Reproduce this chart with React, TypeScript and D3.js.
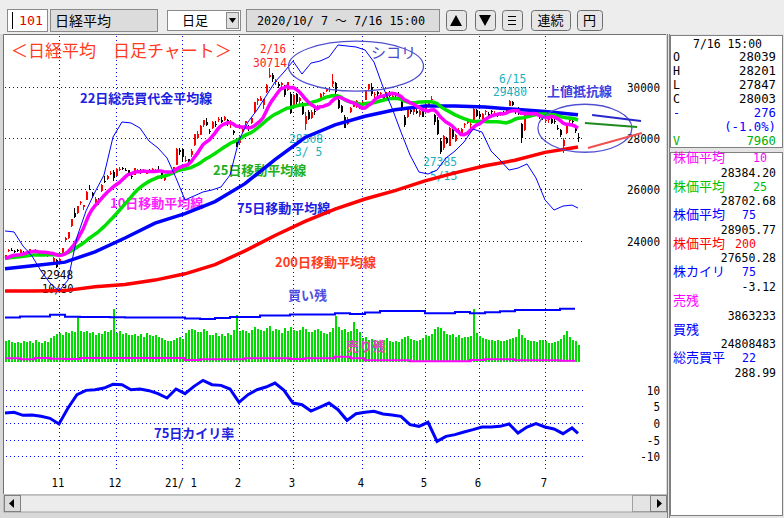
import React from 'react'
import * as d3 from 'd3'

// closes before 2020/10/7, only used to seed the 10/25 day averages
const seedCloses = [23139, 23138, 23247, 23465, 23205, 23089, 23274, 23032, 23235, 23406, 23559, 23454,
  23475, 23319, 23360, 23346, 23087, 23204, 23511, 23539, 23185, 23029, 23312, 23433]

// daily candles [open, high, low, close]
const octCandles = [
  [23310, 23450, 23300, 23422], [23600, 23680, 23550, 23647], [23650, 23700, 23580, 23619], [23580, 23620, 23520, 23558],
  [23620, 23660, 23540, 23601], [23530, 23660, 23500, 23626], [23550, 23600, 23480, 23507], [23450, 23500, 23370, 23410],
  [23560, 23690, 23520, 23671], [23610, 23650, 23540, 23567], [23600, 23670, 23560, 23639], [23540, 23560, 23450, 23474],
  [23490, 23540, 23450, 23516], [23560, 23590, 23480, 23494], [23440, 23500, 23380, 23485], [23440, 23470, 23400, 23418],
  [23170, 23380, 23100, 23331], [23250, 23280, 22948, 22977]
]
const novCandles = [
  [23080, 23320, 23060, 23295], [23500, 23720, 23480, 23695], [24040, 24150, 23990, 24105], [24100, 24350, 24050, 24325],
  [24560, 24850, 24540, 24839], [25090, 25280, 24900, 24905], [25060, 25360, 25020, 25349], [25490, 25560, 25370, 25520],
  [25300, 25400, 25180, 25385], [25600, 25940, 25580, 25906], [26030, 26180, 25960, 26014], [25850, 25900, 25660, 25728],
  [25490, 25700, 25450, 25634], [25620, 25660, 25400, 25527], [25950, 26200, 25900, 26165], [26340, 26500, 26260, 26296],
  [26420, 26570, 26380, 26537], [26620, 26700, 26540, 26644], [26690, 26760, 26330, 26433]
]
const decCandles = [
  [26520, 26820, 26500, 26787], [26740, 26850, 26700, 26800], [26830, 26880, 26750, 26809], [26760, 26830, 26700, 26751],
  [26750, 26770, 26530, 26547], [26500, 26560, 26400, 26467], [26550, 26840, 26540, 26817], [26710, 26790, 26660, 26756],
  [26750, 26800, 26600, 26652], [26710, 26790, 26660, 26732], [26600, 26720, 26580, 26687], [26770, 26810, 26720, 26757],
  [26780, 26840, 26760, 26806], [26760, 26810, 26700, 26763], [26770, 26910, 26700, 26714], [26680, 26700, 26400, 26436],
  [26360, 26570, 26340, 26524], [26610, 26690, 26580, 26668], [26650, 26700, 26620, 26656], [26700, 26860, 26660, 26854],
  [26940, 27600, 26930, 27568], [27550, 27600, 27340, 27444]
]
const janCandles = [
  [27570, 27600, 27050, 27258], [27150, 27280, 27060, 27158], [27170, 27200, 26960, 27055], [27340, 27570, 27250, 27490],
  [27720, 28140, 27700, 28139], [28000, 28290, 27950, 28164], [28120, 28500, 28100, 28456], [28490, 28700, 28440, 28698],
  [28630, 28770, 28470, 28519], [28270, 28340, 28140, 28242], [28390, 28650, 28360, 28633], [28550, 28660, 28420, 28523],
  [28700, 28800, 28640, 28756], [28700, 28800, 28580, 28631], [28700, 28860, 28650, 28822], [28710, 28760, 28480, 28546],
  [28500, 28700, 28400, 28635], [28260, 28300, 28100, 28197], [27900, 28000, 27630, 27663]
]
const febCandles = [
  [27790, 28100, 27750, 28091], [28260, 28400, 28200, 28362], [28600, 28670, 28500, 28646], [28440, 28520, 28280, 28341],
  [28600, 28800, 28560, 28779], [29000, 29400, 28980, 29388], [29440, 29540, 29300, 29505], [29450, 29630, 29430, 29562],
  [29280, 29530, 29150, 29520], [29780, 30100, 29770, 30084], [30380, 30714, 30330, 30467], [30450, 30550, 30200, 30292],
  [30200, 30300, 30080, 30236], [30100, 30200, 29950, 30017], [30060, 30180, 29960, 30156], [29980, 30080, 29600, 29671],
  [29890, 30190, 29850, 30168], [29700, 29800, 28950, 28966]
]
const marCandles = [
  [29300, 29700, 29280, 29663], [29700, 29750, 29300, 29408], [29450, 29600, 29200, 29559], [29350, 29400, 28900, 28930],
  [28550, 29000, 28308, 28864], [29020, 29100, 28700, 28743], [28770, 29100, 28750, 29027], [29050, 29150, 28900, 29036],
  [29170, 29300, 29120, 29211], [29480, 29750, 29450, 29717], [29760, 29800, 29650, 29766], [29850, 29950, 29780, 29921],
  [29870, 29960, 29800, 29914], [30090, 30485, 30000, 30216], [30130, 30170, 29700, 29792], [29500, 29530, 29150, 29174],
  [29250, 29300, 28990, 28995], [28800, 28900, 28380, 28405], [28550, 28800, 28500, 28729], [29000, 29200, 28980, 29176],
  [29220, 29420, 29200, 29384], [29200, 29500, 29180, 29432], [29330, 29400, 29150, 29178]
]
const aprCandles = [
  [29300, 29450, 29200, 29388], [29500, 29880, 29480, 29854], [29900, 30100, 29850, 30089], [30000, 30150, 29650, 29696],
  [29680, 29790, 29550, 29730], [29800, 29830, 29600, 29708], [29740, 29800, 29620, 29768], [29640, 29680, 29450, 29538],
  [29570, 29800, 29520, 29751], [29760, 29830, 29600, 29620], [29600, 29680, 29500, 29642], [29750, 29800, 29600, 29683],
  [29700, 29800, 29620, 29685], [29500, 29550, 29050, 29100], [28800, 28900, 28420, 28508], [28800, 29200, 28780, 29188],
  [29100, 29200, 28950, 29020], [29000, 29150, 28900, 29126], [29050, 29150, 28950, 28991], [28900, 29100, 28800, 29053],
  [29100, 29150, 28800, 28812]
]
const mayCandles = [
  [29000, 29400, 28950, 29331], [29300, 29450, 29250, 29357], [29500, 29650, 29450, 29518], [28900, 28950, 28500, 28608],
  [28700, 28800, 28100, 28147], [27900, 28000, 27385, 27448], [27600, 28100, 27550, 28084], [28000, 28050, 27750, 27824],
  [27700, 28420, 27680, 28406], [28300, 28350, 27950, 28044], [27900, 28150, 27850, 28098], [28300, 28400, 28200, 28317],
  [28200, 28400, 28150, 28364], [28500, 28600, 28400, 28553], [28600, 28700, 28550, 28642], [28500, 28650, 28400, 28549],
  [28700, 29200, 28680, 29149], [29100, 29150, 28800, 28860]
]
const junCandles = [
  [28950, 29050, 28750, 28814], [28700, 28980, 28650, 28946], [29000, 29100, 28900, 29058], [28950, 29000, 28850, 28941],
  [29050, 29100, 28950, 29019], [28950, 29050, 28900, 28963], [28900, 28950, 28800, 28860], [28900, 29000, 28850, 28958],
  [29000, 29050, 28900, 28948], [29050, 29200, 29030, 29161], [29250, 29480, 29230, 29441], [29400, 29450, 29250, 29291],
  [29100, 29150, 28950, 29018], [29100, 29200, 28900, 28964], [28550, 28600, 27795, 28011], [28300, 28900, 28280, 28884],
  [28950, 29000, 28800, 28874], [28900, 28950, 28800, 28875], [28950, 29100, 28900, 29066], [29050, 29100, 28950, 29048],
  [28900, 28950, 28750, 28812], [28800, 28850, 28700, 28791]
]
const julCandles = [
  [28650, 28800, 28600, 28707], [28700, 28800, 28600, 28783], [28750, 28800, 28550, 28598], [28650, 28750, 28550, 28643],
  [28400, 28500, 28300, 28366], [28300, 28350, 28050, 28118], [27700, 28000, 27420, 27940], [28200, 28600, 28150, 28569],
  [28650, 28800, 28600, 28718], [28650, 28700, 28550, 28608], [28450, 28500, 28200, 28279], [28039, 28201, 27847, 28003]
]

// volume (V), one per day
const octVol = [9800, 10300, 9500, 8700, 9200, 9100, 9600, 9300, 9800, 9000, 10100, 9500, 8900, 9700, 9400, 11000, 12200, 13100]
const novVol = [13600, 12800, 14000, 13400, 14300, 13900, 21100, 14500, 14200, 14400, 13600, 14200, 12600, 13800, 13100, 14500, 13900, 14800, 24900]
const decVol = [13800, 14300, 12900, 13500, 12400, 12800, 13200, 12100, 12900, 11600, 13400, 12500, 12200, 12800, 11900, 11300, 10300, 9800, 9600, 10400, 11300, 11900]
const janVol = [10600, 13400, 14800, 15400, 15100, 14200, 13900, 15300, 14600, 12800, 12500, 13400, 12100, 12900, 12300, 13600, 12800, 14900, 21900]
const febVol = [14300, 15200, 14600, 13800, 15100, 16200, 15600, 14900, 14400, 15900, 16800, 14700, 15300, 14900, 13600, 15800, 14500, 16400]
const marVol = [15200, 14300, 14900, 16600, 15400, 14200, 13900, 14800, 15600, 14300, 13700, 13200, 14100, 15800, 21600, 16200, 14900, 15400, 13900, 14600, 18700, 15300, 14100]
const aprVol = [11200, 11600, 10400, 10900, 10200, 9800, 9600, 10500, 11300, 9900, 9400, 9700, 9500, 10600, 11800, 12300, 10900, 10400, 9800, 10100, 11200]
const mayVol = [12800, 12200, 13100, 15400, 16200, 15800, 14300, 13200, 12600, 12900, 11800, 12400, 11300, 11600, 11900, 12200, 24700, 13400]
const junVol = [12300, 11100, 10800, 10400, 10200, 9800, 10300, 9600, 9900, 10500, 10800, 11300, 11900, 15600, 12800, 11400, 10200, 9700, 9900, 9400, 10100, 10300]
const julVol = [9600, 9100, 8700, 9200, 9800, 10900, 12600, 14300, 11900, 10300, 9600, 7960]

// weekly margin balances (million shares)
const buyRemain = [21.3, 21.7, 21.7, 22.4, 21.6, 21.5, 21.5, 21.4, 21.3, 21.3, 21.3, 21.3, 20.9, 20.7, 21.1, 21.5, 21.5, 22.1, 22.1,
  22.5, 22.5, 22.5, 23.0, 22.7, 23.3, 23.9, 23.9, 23.9, 23.0, 23.0, 23.5, 23.0, 23.4, 23.8, 24.3, 24.3, 24.3, 24.81]
const sellRemain = [4.8, 4.4, 4.96, 4.6, 4.5, 4.96, 4.96, 4.96, 4.96, 4.96, 4.96, 4.96, 4.15, 4.4, 4.4, 4.4, 4.8, 4.8, 4.8,
  4.5, 4.8, 4.8, 5.4, 4.8, 4.0, 4.0, 4.0, 3.6, 3.6, 3.6, 3.6, 4.15, 4.4, 4.4, 4.0, 4.0, 4.0, 3.86]

// 75 / 200 day averages, every 10 days (last = 7/16)
const ma75Values = [22900, 23030, 23160, 23560, 24100, 24680, 25050, 25520, 26220, 27160, 28020, 28510, 28850, 29100,
  29250, 29250, 29210, 29120, 29030, 28920, 28906]
const ma200Values = [22035, 22035, 22050, 22200, 22290, 22460, 22705, 23060, 23600, 24200, 24750, 25230, 25620, 25950,
  26330, 26640, 26920, 27130, 27440, 27630, 27650]

// 22 day average of total trading value, every 3 days (last = 7/16)
const tradeValueAvg = [272.9, 272.2, 262.3, 255.3, 244.8, 236.3, 230.7, 238.4, 268.6, 287.0, 300.3, 312.2, 338.9, 349.5, 348.8,
  345.2, 336.1, 331.2, 324.2, 310.1, 294.7, 297.5, 300.3, 301.7, 303.8, 312.2, 336.8, 349.5, 357.9, 367.7, 377.6, 384.6, 392.3,
  383.2, 390.9, 392.3, 395.1, 403.6, 402.9, 402.2, 400.1, 391.6, 374.1, 359.3, 342.4, 326.3, 314.3, 312.9, 315.7, 324.2, 329.1,
  335.4, 344.5, 342.4, 329.1, 322.8, 315.7, 317.1, 320.0, 310.1, 294.7, 287.6, 290.4, 291.1, 288.99]

// 75 day kairi (%), every 3 days (last = 7/16)
const kairi75 = [3.0, 3.2, 2.3, 2.4, 2.0, 1.4, -0.3, 4.5, 8.5, 9.8, 10.0, 10.5, 11.6, 11.5, 10.0, 10.2, 9.7, 8.8, 7.5, 10.2,
  8.8, 11.0, 12.8, 11.5, 11.3, 10.2, 6.2, 8.5, 10.0, 10.8, 12.0, 9.8, 6.0, 5.5, 3.6, 4.8, 6.0, 4.0, 0.8, 2.8, 3.2, 3.5, 2.7,
  2.4, 2.0, -0.5, -1.0, 0.2, -5.5, -4.0, -3.5, -2.7, -2.0, -1.2, -1.2, -1.0, -0.3, -3.0, -1.2, -0.2, -1.2, -1.8, -3.2, -1.5, -3.12]

const monthLabels = ['11', '12', '21/ 1', '2', '3', '4', '5', '6', '7']
const priceTicks = [24000, 26000, 28000, 30000]
const kairiTicks = [-10, -5, 0, 5, 10]

const quoteLabels = ['O', 'H', 'L', 'C', '-', '', 'V']
const quoteValues = ['28039', '28201', '27847', '28003', '276', '(-1.0%)', '7960']
const quoteColors = ['#000', '#000', '#000', '#000', '#0000ff', '#0000ff', '#00b000']

const indNames = ['株価平均', '株価平均', '株価平均', '株価平均', '株カイリ', '売残', '買残', '総売買平']
const indParams = ['10', '25', '75', '200', '75', '', '', '22']
const indValues = ['28384.20', '28702.68', '28905.77', '27650.28', '-3.12', '3863233', '24808483', '288.99']
const indColors = ['#ff00ff', '#00c000', '#0000ff', '#ff0000', '#0000ff', '#ff00ff', '#0000ff', '#0000ff']

const months = [octCandles, novCandles, decCandles, janCandles, febCandles, marCandles, aprCandles, mayCandles, junCandles, julCandles]
const candles = months.flat()
const volumes = [octVol, novVol, decVol, janVol, febVol, marVol, aprVol, mayVol, junVol, julVol].flat()
const monthStarts = Array.from(d3.cumsum(months.slice(0, -1).map(m => m.length)))
const last = candles.length - 1

const allCloses = [...seedCloses, ...candles.map(c => c[3])]
const movingAvg = n => candles.map((c, i) => [i, d3.mean(allCloses.slice(i + seedCloses.length - n + 1, i + seedCloses.length + 1))])

const JP = "'Noto Sans CJK JP', sans-serif"
const MONO = "'DejaVu Sans Mono', 'Noto Sans CJK JP', monospace"

function Mono ({ x, y, t, fill = '#000', anchor = 'start', size = 12, cw = 6.7 }) {
  return <text x={x} y={y} fill={fill} textAnchor={anchor} fontFamily={MONO} fontSize={size}
    textLength={t.length * cw} lengthAdjust='spacingAndGlyphs'>{t}</text>
}

function Jp ({ x, y, t, fill, size = 13, bold = true, anchor = 'start' }) {
  return <text x={x} y={y} fill={fill} fontFamily={JP} fontSize={size} fontWeight={bold ? 'bold' : 'normal'} textAnchor={anchor}>{t}</text>
}

function Button ({ x, w, children }) {
  return <g>
    <rect x={x + 0.5} y={10.5} width={w} height={20} rx={3} fill='#e6e6e6' stroke='#6e6e6e' />
    {children}
  </g>
}

export default function App () {
  const x = d3.scaleLinear().domain([0, last]).range([5, 578])
  const yP = d3.scaleLinear().domain([24000, 30000]).range([240.6, 86.7])
  const yK = d3.scaleLinear().domain([-10, 10]).range([456.3, 389.7])
  const yV = d3.scaleLinear().domain([0, 8000]).range([362, 344.9])
  const yM = d3.scaleLinear().domain([4, 24]).range([360.3, 310.7])
  const yT = d3.scaleLinear().domain([230, 405]).range([292, 43])

  const at10 = (v, k, arr) => [k === arr.length - 1 ? last : k * 10, v]
  const at3 = (v, k, arr) => [k === arr.length - 1 ? last : k * 3, v]

  const priceLine = d3.line().x(d => x(d[0])).y(d => yP(d[1]))
  const tvLine = d3.line().x(d => x(d[0])).y(d => yT(d[1]))
  const kLine = d3.line().x(d => x(d[0])).y(d => yK(d[1]))
  const mLine = d3.line().x(d => x(d[0])).y(d => d[1]).curve(d3.curveStepAfter)

  const stepPts = (arr, sc) => [...arr.map((v, w) => [w * 5, sc(v)]), [last - 1, sc(arr[arr.length - 1])]]

  const ma10 = movingAvg(10)
  const ma25 = movingAvg(25)
  const ma75 = ma75Values.map(at10)
  const ma200 = ma200Values.map(at10)

  const dot = { stroke: '#0000ff', strokeWidth: 1, strokeDasharray: '1 3' }

  return (
    <div>
      <style>{'body{margin:0}'}</style>
      <svg width={784} height={518} style={{ display: 'block' }}>
        <rect width={784} height={518} fill='#d8d8d8' />
        {/* toolbar */}
        <rect x={0} y={0} width={784} height={34} fill='#ededed' />
        <rect x={7.5} y={9.5} width={40} height={22} fill='#fff' stroke='#8a8a8a' />
        <line x1={12.5} x2={12.5} y1={12} y2={29} stroke='#000' />
        <Mono x={19} y={25} t='101' fill='#e00000' size={13} cw={8} />
        <rect x={50.5} y={9.5} width={107} height={22} fill='#dcdcdc' stroke='#8a8a8a' />
        <Jp x={55} y={26} t='日経平均' fill='#000' size={14} bold={false} />
        <rect x={167.5} y={10.5} width={73} height={20} fill='#fff' stroke='#8a8a8a' />
        <Jp x={182} y={25} t='日足' fill='#000' size={13} bold={false} />
        <rect x={226.5} y={12.5} width={12} height={16} fill='#e0e0e0' stroke='#8a8a8a' />
        <path d='M229,18 L236,18 L232.5,23 Z' fill='#000' />
        <rect x={246.5} y={9.5} width={193} height={22} fill='#dcdcdc' stroke='#8a8a8a' />
        <Mono x={257} y={25} t='2020/10/ 7 ～  7/16 15:00' size={13} cw={7} />
        <Button x={446} w={20}><path d='M450,26 L462,26 L456,15 Z' fill='#000' /></Button>
        <Button x={475} w={20}><path d='M479,15 L491,15 L485,26 Z' fill='#000' /></Button>
        <Button x={502} w={20}>
          <path d='M508,16.5 H516 M508,20.5 H516 M508,24.5 H516' stroke='#000' />
        </Button>
        <Button x={531} w={39}><Jp x={550.5} y={25} t='連続' fill='#000' size={13} bold={false} anchor='middle' /></Button>
        <Button x={577} w={25}><Jp x={589.5} y={25} t='円' fill='#000' size={13} bold={false} anchor='middle' /></Button>

        {/* main chart area */}
        <rect x={3} y={34} width={663} height={460} fill='#fff' />
        <path d='M3.5,494 V34.5 H666' stroke='#707070' fill='none' />

        {/* grid */}
        {monthStarts.map(i => <line key={'v' + i} x1={x(i) + 0.5} x2={x(i) + 0.5} y1={36} y2={471} {...dot} />)}
        {priceTicks.map(p => <line key={'p' + p} x1={5} x2={583} y1={Math.round(yP(p)) + 0.5} y2={Math.round(yP(p)) + 0.5} {...dot} />)}
        {kairiTicks.map(k => <line key={'k' + k} x1={6} x2={584} y1={Math.round(yK(k)) + 0.5} y2={Math.round(yK(k)) + 0.5} {...dot} />)}

        {/* axis labels */}
        {priceTicks.map(p => <Mono key={'pl' + p} x={660} y={yP(p) + 5} t={String(p)} anchor='end' cw={6.6} />)}
        {kairiTicks.map(k => <Mono key={'kl' + k} x={660} y={yK(k) + 5} t={String(k)} anchor='end' cw={6.6} />)}
        {monthStarts.map((i, j) => <Mono key={'ml' + i} x={x(i) - 1} y={487} t={monthLabels[j]} anchor='middle' cw={6.4} />)}

        {/* annotations */}
        <Jp x={11} y={57} t='＜日経平均　日足チャート＞' fill='#ff3c1e' size={17} bold={false} />
        <Jp x={80} y={103} t='22日総売買代金平均線' fill='#2020e0' />
        <Jp x={110} y={208} t='10日移動平均線' fill='#ff20ff' />
        <Jp x={213} y={175} t='25日移動平均線' fill='#20b020' />
        <Jp x={237} y={213} t='75日移動平均線' fill='#2020e0' />
        <Jp x={275} y={267} t='200日移動平均線' fill='#ff3c1e' />
        <Jp x={288} y={300} t='買い残' fill='#5050e0' />
        <Jp x={154} y={438} t='75日カイリ率' fill='#2020e0' />
        <Jp x={547} y={96} t='上値抵抗線' fill='#4040e0' />
        <Jp x={371} y={58} t='シコリ' fill='#4848c8' size={15} bold={false} />
        <Mono x={260} y={53} t='2/16' fill='#ff2020' size={13} cw={6.5} />
        <Mono x={253} y={67} t='30714' fill='#ff2020' size={13} cw={6.8} />
        <Mono x={499} y={83} t='6/15' fill='#1ab0c0' size={12} cw={6.8} />
        <Mono x={493} y={96} t='29480' fill='#1ab0c0' size={12} cw={6.8} />
        <Mono x={289} y={143} t='28308' fill='#1ab0c0' size={12} cw={6.8} />
        <Mono x={295} y={156} t='3/ 5' fill='#1ab0c0' size={12} cw={6.8} />
        <Mono x={423} y={166} t='27385' fill='#1ab0c0' size={12} cw={6.8} />
        <Mono x={430} y={180} t='5/13' fill='#1ab0c0' size={12} cw={6.8} />
        <Mono x={40} y={279} t='22948' fill='#000' size={12} cw={6.6} />
        <Mono x={42} y={293} t='10/30' fill='#000' size={12} cw={6.3} />

        {/* candles */}
        {candles.map((c, i) => {
          const up = c[3] >= c[0]
          const top = yP(Math.max(c[0], c[3]))
          const h = Math.max(1, yP(Math.min(c[0], c[3])) - top)
          return <g key={'c' + i} fill={up ? '#ff0000' : '#000'} stroke='none' shapeRendering='crispEdges'>
            <rect x={x(i)} y={yP(c[1])} width={1} height={yP(c[2]) - yP(c[1])} />
            <rect x={x(i) - 0.5} y={top} width={2} height={h} />
          </g>
        })}

        {/* moving averages */}
        <path d={priceLine(ma200)} fill='none' stroke='#ff0000' strokeWidth={3.5} />
        <path d={priceLine(ma75)} fill='none' stroke='#0000ff' strokeWidth={3.5} />
        <path d={priceLine(ma25)} fill='none' stroke='#00e000' strokeWidth={3.5} />
        <path d={priceLine(ma10)} fill='none' stroke='#ff00ff' strokeWidth={3.5} />
        <path d={tvLine(tradeValueAvg.map(at3))} fill='none' stroke='#0000ff' strokeWidth={1} />

        {/* resistance marks */}
        <ellipse cx={x(117)} cy={yP(30800)} rx={67.5} ry={25} fill='none' stroke='#5050d0' strokeWidth={1.3} />
        <ellipse cx={x(193.3)} cy={yP(28380)} rx={47} ry={24} fill='none' stroke='#5050d0' strokeWidth={1.3} />
        <line x1={x(195.7)} y1={yP(28897)} x2={x(212)} y2={yP(28663)} stroke='#2828c8' strokeWidth={2} />
        <line x1={x(193.3)} y1={yP(28585)} x2={x(210.7)} y2={yP(28429)} stroke='#208a20' strokeWidth={2} />
        <line x1={x(194.3)} y1={yP(27610)} x2={x(212.3)} y2={yP(28195)} stroke='#f05050' strokeWidth={2} />

        {/* volume and margin balances */}
        {volumes.map((v, i) => <rect key={'vb' + i} x={x(i) - 0.5} y={yV(v)} width={2} height={yV(0) - yV(v)} fill='#00dc00' shapeRendering='crispEdges' />)}
        <path d={mLine(stepPts(buyRemain, yM))} fill='none' stroke='#0000ff' strokeWidth={2} />
        <path d={mLine(stepPts(sellRemain, yM))} fill='none' stroke='#ff00ff' strokeWidth={2} />
        <Jp x={346} y={351} t='売り残' fill='#e040c0' />

        {/* kairi */}
        <path d={kLine(kairi75.map(at3))} fill='none' stroke='#0000ff' strokeWidth={3} />

        {/* scrollbar */}
        <rect x={4} y={495} width={663} height={17} fill='#ececec' stroke='#a0a0a0' />
        <rect x={4.5} y={495.5} width={16} height={16} fill='#dcdcdc' stroke='#808080' />
        <path d='M9,503.5 L14,499 L14,508 Z' fill='#000' />
        <rect x={632.5} y={495.5} width={18} height={16} fill='#e4e4e4' stroke='#a0a0a0' />
        <rect x={650.5} y={495.5} width={16} height={16} fill='#dcdcdc' stroke='#808080' />
        <path d='M662,503.5 L657,499 L657,508 Z' fill='#000' />

        {/* right panel */}
        <rect x={667} y={34} width={117} height={484} fill='#e4e4e4' />
        <path d='M667.5,34 V518 M669.5,34 V518' stroke='#808080' />
        <rect x={670.5} y={35.5} width={112} height={112} fill='#fff' stroke='#808080' />
        <rect x={670.5} y={152.5} width={112} height={363} fill='#fff' stroke='#808080' />
        <Mono x={693} y={48} t='7/16 15:00' cw={6.9} />
        {quoteValues.map((v, i) => <g key={'q' + i}>
          <Mono x={673} y={60.5 + i * 14} t={quoteLabels[i]} fill={quoteColors[i]} cw={7} />
          <Mono x={776} y={60.5 + i * 14} t={v} fill={quoteColors[i]} anchor='end' cw={7.4} />
        </g>)}
        {indValues.map((v, i) => <g key={'ind' + i}>
          <Jp x={673} y={162 + i * 28.6} t={indNames[i]} fill={indColors[i]} bold={false} />
          {indParams[i] && <Mono x={i < 2 ? 767 : 756} y={162 + i * 28.6} t={indParams[i]} fill={indColors[i]} anchor='end' cw={7} />}
          <Mono x={776} y={176.5 + i * 28.6} t={v} anchor='end' cw={6.9} />
        </g>)}
      </svg>
    </div>
  )
}
